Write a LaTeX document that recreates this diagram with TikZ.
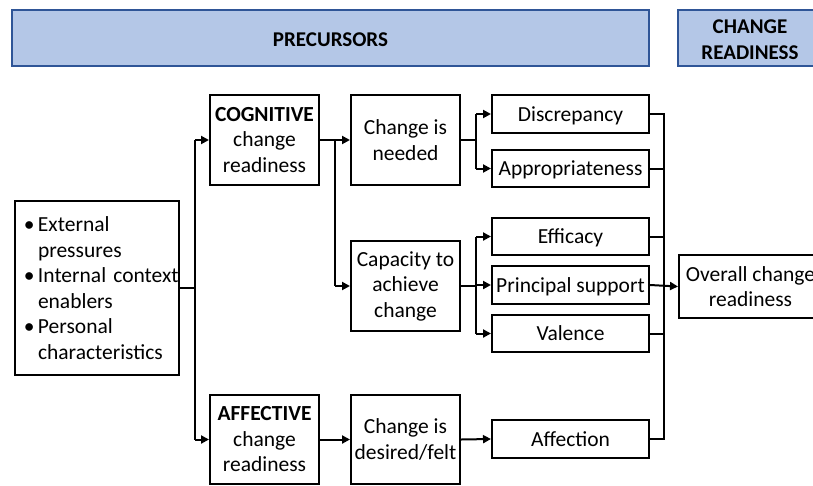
\documentclass[tikz,border=0pt]{standalone}
\usepackage{fontspec}
\setmainfont{Carlito}
\usetikzlibrary{arrows.meta}
\definecolor{hdrfill}{RGB}{180,199,231}
\definecolor{hdrline}{RGB}{47,85,151}
\tikzset{
  box/.style={draw=black, line width=2pt, rectangle, inner sep=0pt, align=center,
    font=\fontsize{21.5}{25.5}\selectfont},
  onebox/.style={box, minimum width=157, text depth=0pt},
  hdrbox/.style={draw=hdrline, fill=hdrfill, line width=2pt},
  hdr/.style={inner sep=0pt, align=center, font=\fontsize{21}{26}\selectfont\bfseries},
  conn/.style={line width=2pt},
  arr/.style={line width=2pt, -{Triangle[length=8pt,width=8pt]}}
}
\newcommand{\bul}[1]{\hspace*{9pt}\makebox[14pt][l]{•}#1}
\newcommand{\cont}[1]{\hspace*{23pt}#1}
\begin{document}
\begin{tikzpicture}[x=1pt,y=-1pt]
\useasboundingbox (0,0) rectangle (813,485);
% headers
\draw[hdrbox] (12,10) rectangle (649,66);
\node[hdr] (h1) at (330.5,39.5) {PRECURSORS};
\draw[hdrbox] (678,10) rectangle (824,66);
\node[hdr] (h2) at (750,39.5) {CHANGE\\READINESS};
% boxes
\node[box, minimum width=164, minimum height=174, text width=164, align=left] (left) at (97,288)
  {\bul{External}\\\cont{pressures}\\
   \bul{Internal context}\\\cont{enablers}\\
   \bul{Personal}\\\cont{characteristics}};
\node[box, minimum width=109, minimum height=90] (cog) at (264.5,140) {\textbf{COGNITIVE}\\change\\readiness};
\node[box, minimum width=109, minimum height=89] (aff) at (264.5,439.5) {\textbf{AFFECTIVE}\\change\\readiness};
\node[box, minimum width=109, minimum height=90] (need) at (405.5,140) {Change is\\needed};
\node[box, minimum width=109, minimum height=90] (cap) at (405.5,286) {Capacity to\\achieve\\change};
\node[box, minimum width=109, minimum height=89] (felt) at (405.5,439.5) {Change is\\desired/felt};
\node[onebox, minimum height=38] (disc) at (570.5,114) {Discrepancy};
\node[onebox, minimum height=37] (appr) at (570.5,168.5) {Appropriateness};
\node[onebox, minimum height=37] (eff) at (570.5,236.5) {Efficacy};
\node[onebox, minimum height=38] (prin) at (570.5,285) {Principal support};
\node[onebox, minimum height=37] (val) at (570.5,333.5) {Valence};
\node[onebox, minimum height=38] (affn) at (570.5,439) {Affection};
\node[box, minimum width=143, minimum height=63] (overall) at (750.5,286.5) {Overall change\\readiness};
% connectors
\coordinate (j1) at (195,288);
\draw[conn] (left.east) -- (j1);
\draw[conn] (j1 |- cog.west) -- (j1 |- aff.west);
\draw[arr] (j1 |- cog.west) -- (cog.west);
\draw[arr] (j1 |- aff.west) -- (aff.west);
\coordinate (j2) at (335,140);
\draw[arr] (cog.east) -- (need.west);
\draw[conn] (j2) -- (j2 |- cap.west);
\draw[arr] (j2 |- cap.west) -- (cap.west);
\coordinate (j3) at (476,140);
\draw[conn] (need.east) -- (j3);
\draw[conn] (j3 |- disc.west) -- (j3 |- appr.west);
\draw[arr] (j3 |- disc.west) -- (disc.west);
\draw[arr] (j3 |- appr.west) -- (appr.west);
\coordinate (j4) at (476,286);
\draw[conn] (cap.east) -- (j4);
\draw[conn] (j4 |- eff.west) -- (j4 |- val.west);
\draw[arr] (j4 |- eff.west) -- (eff.west);
\draw[arr] (j4 |- prin.west) -- (prin.west);
\draw[arr] (j4 |- val.west) -- (val.west);
\draw[arr] (aff.east) -- (felt.west);
\draw[arr] (felt.east) -- (affn.west);
\coordinate (j5) at (664,114);
\draw[conn] (disc.east) -- (j5) -- (j5 |- affn.east) -- (affn.east);
\draw[conn] (appr.east) -- (j5 |- appr.east);
\draw[conn] (eff.east) -- (j5 |- eff.east);
\draw[conn] (val.east) -- (j5 |- val.east);
\draw[arr] (prin.east) -- (overall.west);
\end{tikzpicture}
\end{document}
